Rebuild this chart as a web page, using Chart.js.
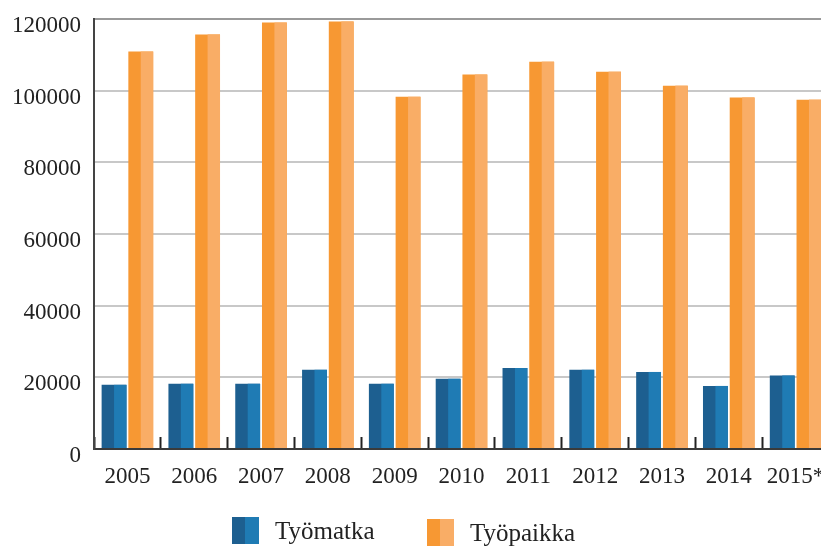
<!DOCTYPE html>
<html>
<head>
<meta charset="utf-8">
<script src="https://cdn.jsdelivr.net/npm/chart.js@4/dist/chart.umd.min.js"></script>
<style>
  html, body { margin: 0; padding: 0; background: #fff; overflow: hidden; }
  #wrap { position: relative; width: 840px; height: 547px; }
</style>
</head>
<body>
<div id="wrap"><canvas id="chart"></canvas></div>
<script>
// Työmatka vs. työpaikka, vuodet 2005-2015*
var YEARS = ['2005', '2006', '2007', '2008', '2009', '2010', '2011', '2012', '2013', '2014', '2015*'];
var TYOMATKA = [17900, 18200, 18200, 22100, 18200, 19600, 22600, 22100, 21500, 17600, 20500];
var TYOPAIKKA = [110900, 115700, 119000, 119300, 98300, 104500, 108100, 105300, 101400, 98100, 97500];
var Y_TICKS = [0, 20000, 40000, 60000, 80000, 100000, 120000];

var FONT = 'Liberation Serif';
var BLUE = ['#1d5f90', '#1f7bb4'];
var ORANGE = ['#f79833', '#f9ad66'];

// no extra room for overhanging labels, the layout padding decides the plot area
function noOverhang(scale) {
  scale.paddingLeft = 0;
  scale.paddingRight = 0;
  scale.paddingTop = 0;
  scale.paddingBottom = 0;
}

// right half of every bar gets the lighter shade
var twoTone = {
  id: 'twoTone',
  afterDatasetsDraw: function (chart) {
    var ctx = chart.ctx;
    var area = chart.chartArea;
    ctx.save();
    ctx.beginPath();
    ctx.rect(area.left, area.top - 2, area.right - area.left, area.bottom - area.top + 2);
    ctx.clip();
    chart.data.datasets.forEach(function (ds, i) {
      var meta = chart.getDatasetMeta(i);
      ctx.fillStyle = ds.lightColor;
      meta.data.forEach(function (bar) {
        ctx.fillRect(bar.x, bar.y, bar.width / 2, bar.base - bar.y);
      });
    });
    ctx.restore();
  }
};

// legend drawn below the axis
var legendBoxes = {
  id: 'legendBoxes',
  afterDraw: function (chart) {
    var ctx = chart.ctx;
    var items = [
      { text: 'Työmatka', colors: BLUE, x: 232, y: 517 },
      { text: 'Työpaikka', colors: ORANGE, x: 427, y: 519 }
    ];
    ctx.save();
    items.forEach(function (it) {
      ctx.fillStyle = it.colors[0];
      ctx.fillRect(it.x, it.y, 14, 27);
      ctx.fillStyle = it.colors[1];
      ctx.fillRect(it.x + 13, it.y, 14, 27);
      ctx.fillStyle = '#222';
      ctx.font = '25px "' + FONT + '"';
      ctx.textBaseline = 'middle';
      ctx.fillText(it.text, it.x + 43, it.y + 15);
    });
    ctx.restore();
  }
};

new Chart(document.getElementById('chart').getContext('2d'), {
  type: 'bar',
  data: {
    labels: YEARS,
    datasets: [{
      label: 'Työmatka',
      data: TYOMATKA,
      backgroundColor: BLUE[0],
      lightColor: BLUE[1],
      borderWidth: 0,
      categoryPercentage: 0.8,
      barPercentage: 0.93
    }, {
      label: 'Työpaikka',
      data: TYOPAIKKA,
      backgroundColor: ORANGE[0],
      lightColor: ORANGE[1],
      borderWidth: 0,
      categoryPercentage: 0.8,
      barPercentage: 0.93
    }]
  },
  options: {
    responsive: true,
    maintainAspectRatio: false,
    animation: false,
    layout: { padding: { top: 19, right: 11, bottom: 0, left: 0 } },
    plugins: {
      legend: { display: false },
      tooltip: { enabled: false }
    },
    scales: {
      x: {
        afterFit: function (scale) { scale.height = 98; noOverhang(scale); },
        grid: {
          offset: true,
          drawOnChartArea: false,
          drawTicks: true,
          tickLength: -12,
          tickColor: '#222',
          tickWidth: 2
        },
        border: { color: '#3a3a3a', width: 2 },
        ticks: {
          color: '#222',
          font: { family: FONT, size: 23 },
          padding: 26,
          maxRotation: 0,
          autoSkip: false
        }
      },
      y: {
        min: 0,
        max: 120000,
        afterFit: function (scale) { scale.width = 94; noOverhang(scale); },
        afterBuildTicks: function (scale) {
          scale.ticks = Y_TICKS.map(function (v) { return { value: v }; });
        },
        grid: {
          drawTicks: false,
          color: function (c) { return c.tick && c.tick.value === 120000 ? '#9a9a9a' : '#c8c8c8'; },
          lineWidth: 2
        },
        border: { color: '#444', width: 2 },
        ticks: {
          color: '#222',
          font: { family: FONT, size: 23 },
          padding: 13,
          labelOffset: 7,
          callback: function (v) { return String(v); }
        }
      }
    }
  },
  plugins: [twoTone, legendBoxes]
});
</script>
</body>
</html>
